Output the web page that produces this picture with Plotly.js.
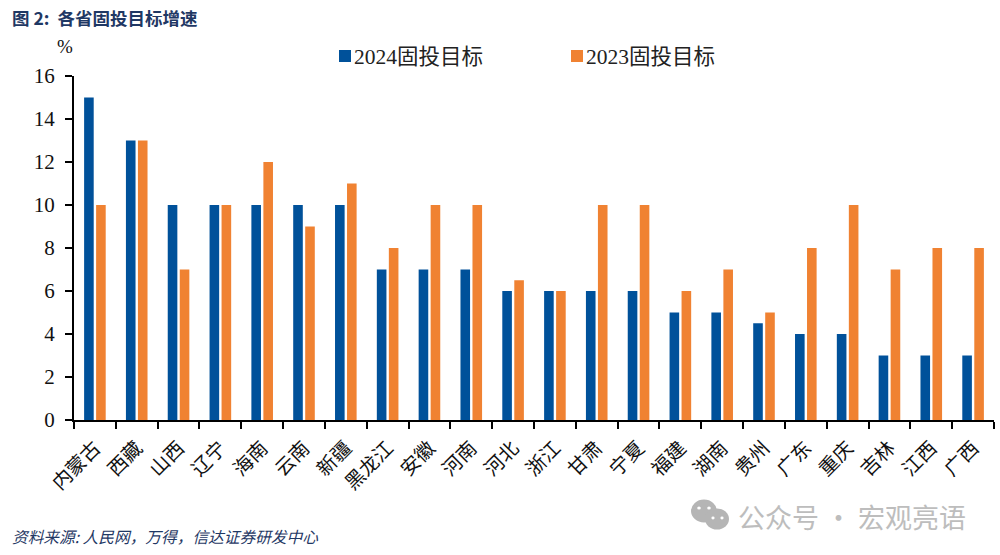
<!DOCTYPE html>
<html><head><meta charset="utf-8">
<script src="https://cdn.plot.ly/plotly-3.0.0.min.js"></script>
<style>html,body{margin:0;padding:0;background:#fff}</style></head>
<body><div id="chart" style="width:1000px;height:555px"></div>
<script>
const provinces = ["内蒙古","西藏","山西","辽宁","海南","云南","新疆","黑龙江","安徽","河南","河北","浙江","甘肃","宁夏","福建","湖南","贵州","广东","重庆","吉林","江西","广西"];
const target2024 = [15,13,10,10,10,10,10,7,7,7,6,6,6,6,5,5,4.5,4,4,3,3,3];
const target2023 = [10,13,7,10,12,9,11,8,10,10,6.5,6,10,10,6,7,5,8,10,7,8,8];
const yTicks = [0,2,4,6,8,10,12,14,16];
const seriesNames = ["2024固投目标","2023固投目标"];
const FONT = '"Liberation Serif","Noto Sans CJK SC",serif';
const W=1000,H=555,L=74,R=994,T=76,B=420;
const px=x=>(x-L)/(R-L), py=y=>(B-y)/(B-T);
const circle=(cx,cy,r,c)=>({type:'circle',xref:'paper',yref:'paper',x0:px(cx-r),x1:px(cx+r),y0:py(cy+r*0.88),y1:py(cy-r*0.88),fillcolor:c,line:{width:0}});
const traces=[
 {type:'bar',name:seriesNames[0],x:provinces,y:target2024,marker:{color:'#00519A',line:{width:0}}},
 {type:'bar',name:seriesNames[1],x:provinces,y:target2023,marker:{color:'#F08232',line:{width:0}}}
];
const layout={
 width:W,height:H,paper_bgcolor:'#fff',plot_bgcolor:'#fff',
 margin:{l:L,r:W-R,t:T,b:H-B,pad:0},
 barmode:'group',bargap:0.426,bargroupgap:0.2,
 font:{family:FONT,color:'#111'},
 showlegend:true,
 legend:{orientation:'h',x:px(314),y:py(56),xanchor:'left',yanchor:'middle',font:{family:FONT,size:21.5,color:'#222'},itemwidth:30,traceorder:'normal',bgcolor:'rgba(0,0,0,0)',entrywidthmode:'pixels',entrywidth:187},
 xaxis:{type:'category',categoryorder:'array',categoryarray:provinces,tickson:'boundaries',ticks:'outside',ticklen:7,tickwidth:2,tickcolor:'#000',showline:true,linecolor:'#000',linewidth:2,showgrid:false,zeroline:false,tickangle:-45,ticklabelstandoff:7,tickfont:{family:'"Noto Sans CJK SC",sans-serif',size:19.5,color:'#111'}},
 yaxis:{range:[0,16],tickvals:yTicks,ticktext:yTicks.map(String),ticks:'outside',ticklen:7,tickwidth:2,tickcolor:'#000',showline:true,linecolor:'#000',linewidth:2,showgrid:false,zeroline:false,ticklabelstandoff:6,tickfont:{family:FONT,size:21,color:'#111'}},
 annotations:[
  {xref:'paper',yref:'paper',x:px(10),y:py(18),xanchor:'left',yanchor:'middle',showarrow:false,text:'<b>图 2:  各省固投目标增速</b>',font:{family:'"Noto Sans CJK SC",sans-serif',size:17.5,color:'#1F3864'}},
  {xref:'paper',yref:'paper',x:px(65),y:py(46),xanchor:'center',yanchor:'middle',showarrow:false,text:'%',font:{family:FONT,size:19,color:'#111'}},
  {xref:'paper',yref:'paper',x:px(10),y:py(536),xanchor:'left',yanchor:'middle',showarrow:false,text:'<i>资料来源: 人民网，万得，信达证券研发中心</i>',font:{family:'"Noto Sans CJK SC",sans-serif',size:15.7,color:'#1F3864'}},
  {xref:'paper',yref:'paper',x:px(736),y:py(516),xanchor:'left',yanchor:'middle',showarrow:false,text:'公众号 · 宏观亮语',font:{family:'"Noto Sans CJK SC",sans-serif',size:27,color:'#BDBDBD'}}
 ],
 shapes:[
  circle(704,511,13,'#B5B5B5'),circle(717,519,12,'#B5B5B5'),
  circle(699,508,1.8,'#fff'),circle(709,508,1.8,'#fff'),circle(713,518,1.6,'#fff'),circle(722,518,1.6,'#fff')
 ]
};
Plotly.newPlot('chart',traces,layout,{displayModeBar:false,staticPlot:true}).then(()=>{
  document.querySelectorAll('.legend .traces .legendpoints').forEach(g=>g.setAttribute('transform','translate(11,0)'));
});
</script></body></html>
